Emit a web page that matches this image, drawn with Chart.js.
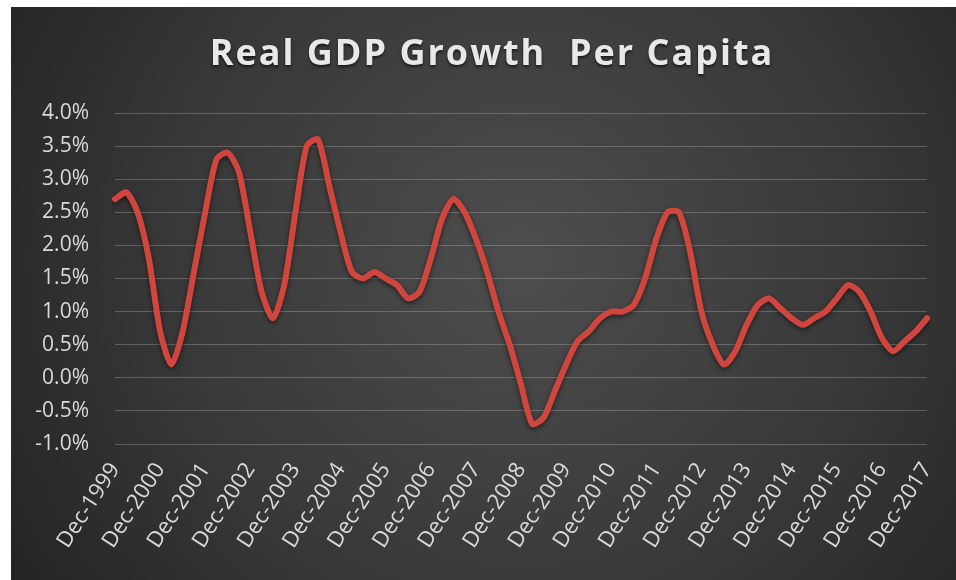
<!DOCTYPE html>
<html>
<head>
<meta charset="utf-8">
<script src="https://cdn.jsdelivr.net/npm/chart.js@4/dist/chart.umd.min.js"></script>
<style>
	html, body { margin:0; padding:0; background:#fff; }
	#wrap { position:relative; width:956px; height:580px; }
</style>
</head>
<body>
<div id="wrap"><canvas id="c"></canvas></div>
<script>
// quarterly, Dec-1999 .. Dec-2017
const years = [1999, 2017];
const months = ['Mar', 'Jun', 'Sep', 'Dec'];
const growth = [
	2.7, 2.8, 2.5, 1.8, 0.7, 0.2, 0.7, 1.6, 2.5, 3.3, 3.4, 3.1, 2.2,
	1.3, 0.9, 1.4, 2.5, 3.5, 3.6, 2.9, 2.2, 1.6, 1.5, 1.6, 1.5, 1.4,
	1.2, 1.3, 1.8, 2.4, 2.7, 2.5, 2.1, 1.6, 1.0, 0.5, -0.1, -0.7, -0.6,
	-0.2, 0.2, 0.55, 0.7, 0.9, 1.0, 1.0, 1.1, 1.5, 2.1, 2.5, 2.5, 1.9,
	1.0, 0.5, 0.2, 0.4, 0.8, 1.1, 1.2, 1.05, 0.9, 0.8, 0.9, 1.0, 1.2,
	1.4, 1.3, 1.0, 0.6, 0.4, 0.55, 0.7, 0.9
];
const yTicks = [-1.0, -0.5, 0.0, 0.5, 1.0, 1.5, 2.0, 2.5, 3.0, 3.5, 4.0];
const title = 'Real GDP Growth  Per Capita';

const labels = ['Dec-' + years[0]];
for (let y = years[0] + 1; y <= years[1]; y++) months.forEach(m => labels.push(m + '-' + y));

const bg = {
	id: 'bg',
	beforeDraw: c => {
		const x = c.ctx;
		x.save();
		x.fillStyle = '#fff';
		x.fillRect(0, 0, c.width, c.height);
		const g = x.createRadialGradient(520, 260, 20, 520, 260, 620);
		g.addColorStop(0, '#4c4c4c');
		g.addColorStop(0.55, '#383838');
		g.addColorStop(1, '#222');
		x.fillStyle = g;
		x.fillRect(11, 7, c.width - 11, c.height - 7);
		x.restore();
	},
	beforeDatasetsDraw: c => {
		c.ctx.save();
		c.ctx.shadowColor = 'rgba(0,0,0,0.55)';
		c.ctx.shadowBlur = 5;
		c.ctx.shadowOffsetY = 2;
	},
	afterDatasetsDraw: c => c.ctx.restore(),
	// title drawn here so it can get letter spacing
	afterDraw: c => {
		const x = c.ctx;
		x.save();
		x.font = 'bold 36px "Open Sans"';
		x.letterSpacing = '2px';
		x.fillStyle = '#e8e8e8';
		x.textAlign = 'center';
		x.textBaseline = 'middle';
		x.shadowColor = 'rgba(0,0,0,0.6)';
		x.shadowBlur = 3;
		x.shadowOffsetY = 2;
		x.fillText(title, 492, 55);
		x.restore();
	},
};

const txt = '#d9d9d9';

new Chart(document.getElementById('c'), {
	type: 'line',
	data: {
		labels: labels,
		datasets: [{
			label: title,
			data: growth,
			borderColor: '#d0463f',
			borderWidth: 6,
			borderCapStyle: 'round',
			borderJoinStyle: 'round',
			pointRadius: 0,
			tension: 0.25,
		}]
	},
	options: {
		responsive: true,
		maintainAspectRatio: false,
		animation: false,
		layout: { padding: { left: 11, right: 29, top: 0, bottom: 0 } },
		plugins: {
			legend: { display: false },
			tooltip: { enabled: false },
			title: {
				display: true,
				text: title,
				color: 'rgba(0,0,0,0)',
				font: { family: 'Open Sans', size: 35, weight: 'bold', lineHeight: 1.2 },
				padding: { top: 36, bottom: 35 },
			},
		},
		scales: {
			x: {
				grid: { display: false },
				border: { display: false },
				afterFit: s => { s.height = 136 },
				ticks: {
					autoSkip: false,
					maxRotation: 57,
					minRotation: 57,
					padding: 6,
					color: txt,
					font: { family: 'Open Sans', size: 22 },
					callback: function (v) {
						const l = this.getLabelForValue(v);
						return l.startsWith('Dec') ? l : '';
					},
				},
			},
			y: {
				min: yTicks[0],
				max: yTicks[yTicks.length - 1],
				afterFit: s => { s.width = 104 },
				afterBuildTicks: s => { s.ticks = yTicks.map(v => ({ value: v })) },
				grid: { color: 'rgba(255,255,255,0.22)', lineWidth: 1, drawTicks: false },
				border: { display: false },
				ticks: {
					color: txt,
					padding: 26,
					font: { family: 'Open Sans', size: 21 },
					callback: v => v.toFixed(1) + '%',
				},
			},
		},
	},
	plugins: [bg],
});
</script>
</body>
</html>
